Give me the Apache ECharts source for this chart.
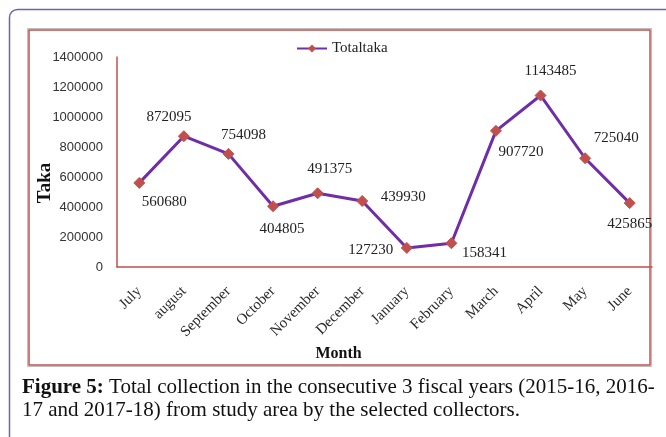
<!DOCTYPE html>
<html>
<head>
<meta charset="utf-8">
<script src="https://cdn.jsdelivr.net/npm/echarts@6/dist/echarts.min.js"></script>
<style>
  html, body { margin: 0; padding: 0; background: #ffffff; }
  #chart { width: 666px; height: 437px; }
</style>
</head>
<body>
<div id="chart"></div>
<script>
const months = ['July', 'august', 'September', 'October', 'November', 'December',
  'January', 'February', 'March', 'April', 'May', 'June'];
const totalTaka = [560680, 872095, 754098, 404805, 491375, 439930,
  127230, 158341, 907720, 1143485, 725040, 425865];
const yTicks = [0, 200000, 400000, 600000, 800000, 1000000, 1200000, 1400000];

// where each data label sits relative to its point
const labelPos = [
  [25, 19], [-15, -19], [15, -19], [9, 23], [12, -24], [41, -4],
  [-36, 2], [33, 10], [25, 21], [10, -24], [31, -20], [0, 21]
];

const serif = "'Liberation Serif', 'Times New Roman', serif";
const sans = "'Liberation Sans', Arial, sans-serif";

let chart = echarts.init(document.getElementById('chart'));
let option = {
  animation: false,
  backgroundColor: '#ffffff',
  legend: {
    top: 36,
    left: 291,
    itemWidth: 30,
    itemHeight: 10,
    itemGap: 3,
    textStyle: { fontFamily: serif, fontSize: 15, color: '#222' },
    data: ['Totaltaka']
  },
  grid: {
    left: 117,
    right: 14,
    top: 57,
    bottom: 170
  },
  xAxis: {
    type: 'category',
    data: months,
    boundaryGap: true,
    name: 'Month',
    nameLocation: 'middle',
    nameGap: 79,
    nameMoveOverlap: false,
    nameTextStyle: { fontFamily: serif, fontSize: 16, fontWeight: 'bold', color: '#111', padding: [0, 92, 0, 0] },
    axisLine: { lineStyle: { color: '#c0504d', width: 1.5 } },
    axisTick: { show: false },
    axisLabel: {
      rotate: 45,
      interval: 0,
      margin: 22,
      fontFamily: serif,
      fontSize: 15,
      color: '#2a2a2a'
    }
  },
  yAxis: {
    type: 'value',
    min: 0,
    max: 1400000,
    interval: 200000,
    name: 'Taka',
    nameLocation: 'middle',
    nameGap: 62,
    nameMoveOverlap: false,
    nameTextStyle: { fontFamily: serif, fontSize: 19, fontWeight: 'bold', color: '#111', padding: [0, 42, 0, 0] },
    axisLine: { show: true, lineStyle: { color: '#c0504d', width: 1.5 } },
    axisTick: { show: false },
    splitLine: { show: false },
    axisLabel: {
      margin: 14,
      fontFamily: sans,
      fontSize: 13,
      color: '#333',
      formatter: function (v) { return yTicks.indexOf(v) >= 0 ? String(v) : ''; }
    }
  },
  series: [
    {
      name: 'Totaltaka',
      type: 'line',
      data: totalTaka.map(function (v, i) {
        return {
          value: v,
          label: { offset: labelPos[i] }
        };
      }),
      symbol: 'diamond',
      symbolSize: 11,
      lineStyle: { color: '#6f2da8', width: 3 },
      itemStyle: { color: '#c0504d', borderColor: '#c0504d' },
      label: {
        show: true,
        position: 'inside',
        fontFamily: serif,
        fontSize: 15,
        color: '#222'
      }
    }
  ],
  graphic: [
    {
      type: 'rect',
      shape: { x: 9.5, y: 9.5, width: 700, height: 500, r: 8 },
      style: { fill: 'none', stroke: '#6b63b5', lineWidth: 1.5 },
      silent: true
    },
    {
      type: 'rect',
      shape: { x: 27.5, y: 28.5, width: 624, height: 338 },
      style: { fill: 'none', stroke: '#bdbdbd', lineWidth: 1 },
      silent: true
    },
    {
      type: 'rect',
      shape: { x: 29, y: 30, width: 621, height: 335 },
      style: { fill: 'none', stroke: '#c0504d', lineWidth: 1.5 },
      silent: true
    },
    {
      type: 'text',
      left: 22,
      top: 376,
      style: {
        text: '{b|Figure 5:} Total collection in the consecutive 3 fiscal years (2015-16, 2016-\n17 and 2017-18) from study area by the selected collectors.',
        rich: {
          b: { fontFamily: serif, fontSize: 21, fontWeight: 'bold', fill: '#111', lineHeight: 23 }
        },
        fontFamily: serif,
        fontSize: 21,
        lineHeight: 23,
        fill: '#111'
      }
    }
  ]
};
chart.setOption(option);
</script>
</body>
</html>
